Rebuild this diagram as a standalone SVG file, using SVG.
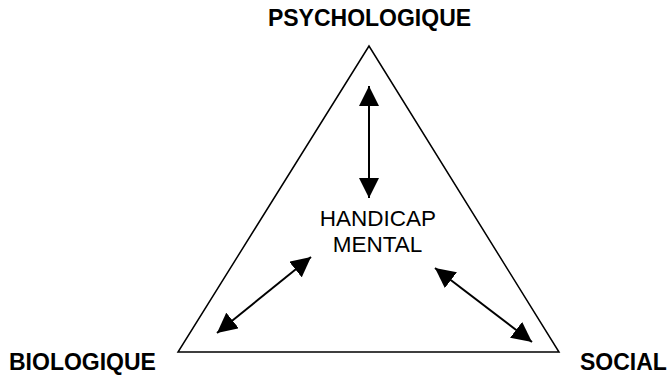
<svg xmlns="http://www.w3.org/2000/svg" width="669" height="375" viewBox="0 0 669 375">
<style>
.lbl{font-family:"Liberation Sans",Arial,sans-serif;font-size:23px;font-weight:bold;fill:#000}
.ctr{font-family:"Liberation Sans",Arial,sans-serif;font-size:22.5px;fill:#000}
.arr{stroke:#000;stroke-width:2;fill:none;marker-start:url(#ah);marker-end:url(#ah)}
</style>
<defs>
<marker id="ah" markerUnits="userSpaceOnUse" markerWidth="20" markerHeight="20" refX="20" refY="10" orient="auto-start-reverse" viewBox="0 0 20 20">
<path d="M0,0 L20,10 L0,20 Z" fill="#000"/>
</marker>
</defs>
<rect width="669" height="375" fill="#fff"/>
<g id="triangle">
<polygon points="369,46 178,352 559,352" fill="none" stroke="#000" stroke-width="1.5"/>
</g>
<g id="psychologique"><text class="lbl" x="369.5" y="26" text-anchor="middle">PSYCHOLOGIQUE</text></g>
<g id="biologique"><text class="lbl" x="9" y="370">BIOLOGIQUE</text></g>
<g id="social"><text class="lbl" x="580" y="370">SOCIAL</text></g>
<g id="handicap"><text class="ctr" x="378" y="226" text-anchor="middle">HANDICAP</text><text class="ctr" x="377.5" y="252" text-anchor="middle">MENTAL</text></g>
<g id="connectors">
<line class="arr" x1="369" y1="86" x2="369" y2="198"/>
<line class="arr" x1="311" y1="257" x2="217" y2="333"/>
<line class="arr" x1="435" y1="268" x2="532" y2="342"/>
</g>
</svg>
